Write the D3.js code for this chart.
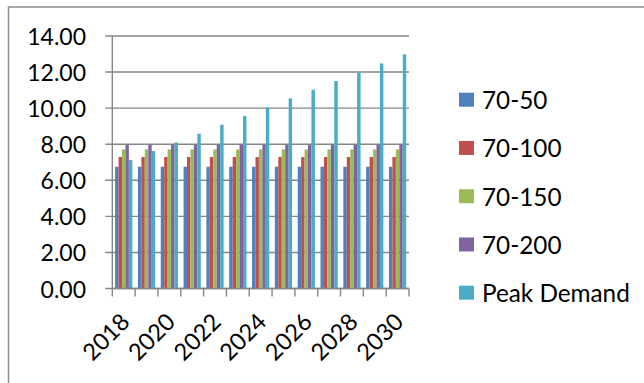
<!DOCTYPE html>
<html>
<head>
<meta charset="utf-8">
<script src="https://cdn.jsdelivr.net/npm/d3@7"></script>
<style>
  html, body { margin: 0; padding: 0; background: #fff; }
  svg { display: block; }
  text { font-family: Lato, "Open Sans", sans-serif; fill: #000; }
</style>
</head>
<body>
<svg id="chart" width="644" height="383"></svg>
<script>
// Scenario capacities and projected peak demand, 2018–2030
const years = ["2018","2019","2020","2021","2022","2023","2024","2025","2026","2027","2028","2029","2030"];
const seriesNames = ["70-50", "70-100", "70-150", "70-200", "Peak Demand"];
const s7050  = [6.75, 6.75, 6.75, 6.75, 6.75, 6.75, 6.75, 6.75, 6.75, 6.75, 6.75, 6.75, 6.75];
const s70100 = [7.29, 7.29, 7.29, 7.29, 7.29, 7.29, 7.29, 7.29, 7.29, 7.29, 7.29, 7.29, 7.29];
const s70150 = [7.71, 7.71, 7.71, 7.71, 7.71, 7.71, 7.71, 7.71, 7.71, 7.71, 7.71, 7.71, 7.71];
const s70200 = [7.97, 7.97, 7.97, 7.97, 7.97, 7.97, 7.97, 7.97, 7.97, 7.97, 7.97, 7.97, 7.97];
const peakDemand = [7.12, 7.62, 8.10, 8.58, 9.08, 9.56, 10.04, 10.54, 11.02, 11.50, 11.98, 12.48, 12.98];
const yTicks = [0, 2, 4, 6, 8, 10, 12, 14];
const xLabelYears = ["2018","2020","2022","2024","2026","2028","2030"];
const colors = ["#4F81BD", "#C0504D", "#9BBB59", "#8064A2", "#4BACC6"];

const seriesValues = [s7050, s70100, s70150, s70200, peakDemand];

const svg = d3.select("#chart");
const gridColor = "#868686";

// outer chart frame
svg.append("rect")
  .attr("x", 8.5).attr("y", 7)
  .attr("width", 700).attr("height", 400)
  .attr("fill", "none")
  .attr("stroke", "#8c8c8c")
  .attr("stroke-width", 1.5);

const plot = { left: 112.3, right: 409, top: 36, bottom: 288.5 };

const x0 = d3.scaleBand().domain(years).range([plot.left, plot.right]).padding(0);
const inset = 2.8;
const x1 = d3.scaleBand().domain(seriesNames).range([inset, x0.bandwidth() - inset]).padding(0);
const y = d3.scaleLinear().domain([0, 14]).range([plot.bottom, plot.top]);

// horizontal gridlines
svg.append("g")
  .selectAll("line")
  .data(yTicks)
  .join("line")
  .attr("x1", plot.left - 7).attr("x2", plot.right)
  .attr("y1", d => y(d)).attr("y2", d => y(d))
  .attr("stroke", gridColor)
  .attr("stroke-width", 1.4);

// y axis line
svg.append("line")
  .attr("x1", plot.left).attr("x2", plot.left)
  .attr("y1", plot.top).attr("y2", plot.bottom)
  .attr("stroke", gridColor).attr("stroke-width", 1.4);

// y tick labels
svg.append("g")
  .selectAll("text")
  .data(yTicks)
  .join("text")
  .attr("x", 86)
  .attr("y", d => y(d))
  .attr("text-anchor", "end")
  .attr("dominant-baseline", "central")
  .attr("font-size", 23)
  .text(d => d3.format(".2f")(d));

// bars
const groups = svg.append("g")
  .selectAll("g")
  .data(years)
  .join("g")
  .attr("transform", d => `translate(${x0(d)},0)`);

groups.selectAll("rect")
  .data((yr, i) => seriesNames.map((name, k) => ({ name, k, v: seriesValues[k][i] })))
  .join("rect")
  .attr("x", d => x1(d.name))
  .attr("width", x1.bandwidth())
  .attr("y", d => y(d.v))
  .attr("height", d => y(0) - y(d.v))
  .attr("fill", d => colors[d.k]);

// x axis line and category boundary ticks
svg.append("line")
  .attr("x1", plot.left).attr("x2", plot.right)
  .attr("y1", plot.bottom).attr("y2", plot.bottom)
  .attr("stroke", gridColor).attr("stroke-width", 1.4);

const boundaries = years.map(d => x0(d)).concat([plot.right]);
svg.append("g")
  .selectAll("line")
  .data(boundaries)
  .join("line")
  .attr("x1", d => d).attr("x2", d => d)
  .attr("y1", plot.bottom).attr("y2", plot.bottom + 8)
  .attr("stroke", gridColor).attr("stroke-width", 1.4);

// rotated x labels
svg.append("g")
  .selectAll("text")
  .data(xLabelYears)
  .join("text")
  .attr("transform", d => `translate(${x0(d) + x0.bandwidth() / 2 + 1},317) rotate(-45)`)
  .attr("text-anchor", "end")
  .attr("dominant-baseline", "central")
  .attr("font-size", 23.5)
  .text(d => d);

// legend
const legend = svg.append("g")
  .selectAll("g")
  .data(seriesNames)
  .join("g")
  .attr("transform", (d, i) => `translate(459,${99.7 + i * 48.25})`);

legend.append("rect")
  .attr("x", 0).attr("y", -7)
  .attr("width", 15).attr("height", 14)
  .attr("fill", (d, i) => colors[i]);

legend.append("text")
  .attr("x", 23).attr("y", 0)
  .attr("dominant-baseline", "central")
  .attr("font-size", 24.3)
  .text(d => d);
</script>
</body>
</html>
